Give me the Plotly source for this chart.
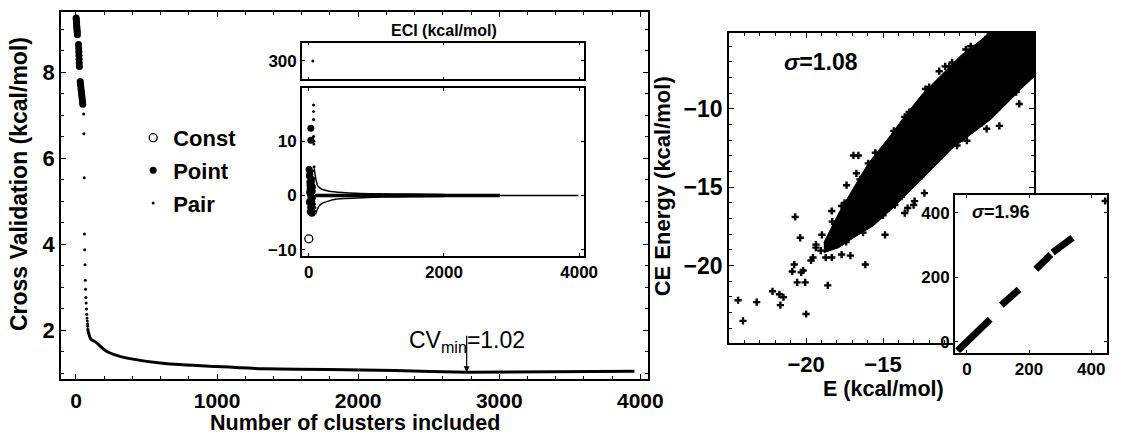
import plotly.graph_objects as go

# ---------------- Cross-validation score vs. number of clusters ----------------
cv_point_n = [1, 2, 3, 4, 5, 6, 7, 8, 9, 10,
              18, 19, 20, 21, 22, 23, 24,
              30, 32, 34, 36, 38, 40, 42, 44, 46, 48]
cv_point_v = [9.27, 9.23, 9.18, 9.14, 9.10, 9.05, 9.01, 8.97, 8.93, 8.88,
              8.65, 8.57, 8.48, 8.40, 8.31, 8.22, 8.14,
              7.79, 7.73, 7.67, 7.61, 7.55, 7.50, 7.44, 7.38, 7.32, 7.26]

cv_pair_n = [54, 56, 58, 60, 62, 64, 66, 68, 70, 72, 74, 76, 78, 80, 82, 83, 84]
cv_pair_v = [7.03, 6.57, 5.55, 4.24, 3.87, 3.52, 3.16, 2.95, 2.76, 2.63, 2.49,
             2.37, 2.28, 2.21, 2.14, 2.09, 2.02]

cv_curve_n = [84, 105, 140, 210, 300, 392, 629, 1000, 1329, 1790, 2259, 2769, 3378, 3958]
cv_curve_v = [2.00, 1.79, 1.72, 1.52, 1.40, 1.33, 1.22, 1.15, 1.10, 1.08, 1.06, 1.02, 1.03, 1.04]

cv_min_n = 2769
cv_min_v = 1.02

# ---------------- ECI inset ----------------
eci_const_n = [0]
eci_const_v = [-8.0]

eci_point_n = [30, 30, 5, 10, 15, 20, 25, 30, 35, 40, 45, 50, 8, 18, 28, 38, 48,
               12, 22, 32, 42, 52, 15, 35]
eci_point_v = [12.4, 10.2, 4.8, 3.6, 2.5, 1.2, 0.2, -0.8, -1.8, -2.6, -3.3, 0.8,
               -1.2, 1.9, -2.2, 3.0, -0.4, 0.6, -3.0, 2.4, -1.4, 1.6, 4.0, -0.3]

eci_pair_n = [70, 70, 70, 70, 75, 75, 78, 60, 65, 70, 75, 80, 85, 90, 62, 68, 74, 82, 88]
eci_pair_v = [16.7, 15.5, 14.0, 10.9, 10.0, 9.5, 5.3, 4.5, 3.2, 2.0, 0.9, -0.5,
              -1.6, -2.8, -3.4, 2.6, -1.0, 1.5, -2.2]

eci_big_n = [60]
eci_big_v = [300]

eci_upper_n = [80, 100, 131, 160, 204, 300, 496, 700, 978, 1500, 2000]
eci_upper_v = [5.0, 3.3, 1.8, 1.4, 1.1, 0.8, 0.55, 0.4, 0.3, 0.25, 0.2]
eci_lower_n = [100, 131, 160, 204, 300, 394, 540, 788, 1100, 1500, 2000]
eci_lower_v = [-3.5, -2.4, -1.8, -1.4, -1.0, -0.7, -0.55, -0.4, -0.3, -0.25, -0.2]

eci_core_n = [90, 2830]
eci_core_v = [0.0, 0.0]
eci_tail_n = [2830, 3990]
eci_tail_v = [0.0, 0.0]

# ---------------- CE energy vs. computed energy ----------------
# outline of the dense part of the cloud
band_e = [-18.85, -17.88, -16.92, -15.96, -14.68, -13.72, -12.44, -11.15, -9.87, -8.59,
          -7.95, -5.0, -5.0, -5.71, -6.67, -7.95, -9.23, -10.51, -11.79, -13.08,
          -14.36, -15.64, -16.92, -17.88, -18.85]
band_ce = [-18.54, -16.65, -15.06, -13.48, -11.90, -10.63, -9.05, -7.78, -6.52, -5.57,
           -5.0, -5.0, -7.78, -8.42, -9.37, -10.63, -11.58, -12.53, -13.80, -15.06,
           -16.33, -17.47, -18.23, -18.86, -19.18]

# individual structures outside / on the rim of the dense part
scatter_e = [-20.71, -20.38, -20.77, -20.90, -20.58, -20.06, -20.19, -20.0, -18.59, -16.15,
             -17.12, -17.69, -24.42, -24.10, -23.21, -22.18, -21.73, -21.47, -21.67, -14.87,
             -13.59, -13.01, -19.68, -19.55, -19.36, -19.04, -18.72, -18.33, -18.97, -19.36,
             -20.32, -9.62, -10.51, -10.96, -11.35, -12.24, -11.28, -13.59, -12.95, -16.60,
             -16.92, -15.96, -16.73, -17.37, -17.69, -18.33, -6.15, -6.35, -7.44, -8.27,
             -9.55, -10.19, -12.95, -12.31, -13.40, -14.23, -5.51, -5.83,
             -18.3, -17.5, -16.5, -15.5, -14.3, -13.3, -12.0, -10.7, -9.3, -8.2,
             -6.0, -7.2, -8.6, -9.9, -11.2, -12.5, -13.8, -15.0, -16.3, -17.4]
scatter_ce = [-16.90, -18.23, -19.94, -20.38, -21.08, -21.08, -20.32, -23.10, -21.27, -19.94,
              -19.37, -19.30, -22.22, -23.54, -22.34, -21.65, -21.84, -22.03, -22.53, -18.04,
              -16.65, -16.14, -19.68, -19.49, -18.86, -19.05, -19.49, -19.49, -18.04, -18.67,
              -20.44, -6.20, -7.03, -7.28, -7.59, -8.73, -8.61, -10.51, -10.19, -12.97,
              -12.97, -13.48, -14.11, -14.87, -16.20, -16.52, -9.68, -8.92, -11.08, -11.27,
              -12.03, -12.34, -15.89, -15.38, -16.33, -16.14, -7.03, -6.65,
              -17.2, -16.0, -14.5, -12.8, -11.4, -10.2, -8.6, -7.3, -6.0, -5.4,
              -8.0, -9.6, -10.9, -11.9, -13.0, -14.3, -15.6, -16.8, -17.9, -18.5]

# full-range comparison (inset): runs of structures along the diagonal
full_e = [-30, 75, None, 111, 168, None, 222, 270, None, 276, 340]
full_ce = [-28, 70, None, 114, 163, None, 225, 271, None, 277, 323]
full_out_e = [445]
full_out_ce = [437]

FONT = "Liberation Sans"
BLACK = "black"

fig = go.Figure()

# legend entries (drawn on the ECI inset)
fig.add_trace(go.Scatter(x=eci_const_n, y=eci_const_v, mode="markers", name="<b>Const</b>",
                         legendgroup="const", legendrank=1,
                         marker=dict(symbol="circle-open", size=8, color=BLACK, line=dict(width=1.3)),
                         xaxis="x3", yaxis="y3"))
fig.add_trace(go.Scatter(x=eci_point_n, y=eci_point_v, mode="markers", name="<b>Point</b>",
                         legendgroup="point", legendrank=2,
                         marker=dict(symbol="circle", size=7, color=BLACK),
                         xaxis="x3", yaxis="y3"))
fig.add_trace(go.Scatter(x=eci_pair_n, y=eci_pair_v, mode="markers", name="<b>Pair</b>",
                         legendgroup="pair", legendrank=3,
                         marker=dict(symbol="circle", size=3, color=BLACK),
                         xaxis="x3", yaxis="y3"))

# CV curve
fig.add_trace(go.Scatter(x=cv_point_n, y=cv_point_v, mode="markers", showlegend=False,
                         legendgroup="point", marker=dict(size=7, color=BLACK),
                         xaxis="x", yaxis="y"))
fig.add_trace(go.Scatter(x=cv_pair_n, y=cv_pair_v, mode="markers", showlegend=False,
                         legendgroup="pair", marker=dict(size=3, color=BLACK),
                         xaxis="x", yaxis="y"))
fig.add_trace(go.Scatter(x=cv_curve_n, y=cv_curve_v, mode="lines", showlegend=False,
                         legendgroup="pair", line=dict(color=BLACK, width=3, shape="spline", smoothing=0.6),
                         xaxis="x", yaxis="y"))

# ECI inset: upper strip
fig.add_trace(go.Scatter(x=eci_big_n, y=eci_big_v, mode="markers", showlegend=False,
                         legendgroup="pair", marker=dict(size=3, color=BLACK),
                         xaxis="x2", yaxis="y2"))
# ECI inset: lower panel lines
fig.add_trace(go.Scatter(x=eci_upper_n, y=eci_upper_v, mode="lines", showlegend=False,
                         line=dict(color=BLACK, width=1.5, shape="spline", smoothing=0.8),
                         xaxis="x3", yaxis="y3"))
fig.add_trace(go.Scatter(x=eci_lower_n, y=eci_lower_v, mode="lines", showlegend=False,
                         line=dict(color=BLACK, width=1.5, shape="spline", smoothing=0.8),
                         xaxis="x3", yaxis="y3"))
fig.add_trace(go.Scatter(x=eci_core_n, y=eci_core_v, mode="lines", showlegend=False,
                         line=dict(color=BLACK, width=3.5), xaxis="x3", yaxis="y3"))
fig.add_trace(go.Scatter(x=eci_tail_n, y=eci_tail_v, mode="lines", showlegend=False,
                         line=dict(color=BLACK, width=1.5), xaxis="x3", yaxis="y3"))

# CE vs E scatter
fig.add_trace(go.Scatter(x=band_e, y=band_ce, mode="lines", fill="toself", showlegend=False,
                         fillcolor="black", line=dict(color=BLACK, width=1),
                         xaxis="x4", yaxis="y4"))
fig.add_trace(go.Scatter(x=scatter_e, y=scatter_ce, mode="markers", showlegend=False,
                         marker=dict(symbol="cross", size=6, color=BLACK),
                         xaxis="x4", yaxis="y4"))

# full-range inset
fig.add_trace(go.Scatter(x=full_e, y=full_ce, mode="lines", showlegend=False,
                         line=dict(color=BLACK, width=7), connectgaps=False,
                         xaxis="x5", yaxis="y5"))
fig.add_trace(go.Scatter(x=full_out_e, y=full_out_ce, mode="markers", showlegend=False,
                         marker=dict(symbol="cross", size=6, color=BLACK),
                         xaxis="x5", yaxis="y5"))

W, H = 1123, 436


def dx(a, b):
    return [a / W, b / W]


def dy(top, bottom):
    return [1 - bottom / H, 1 - top / H]


def ax(**kw):
    base = dict(showgrid=False, zeroline=False, showline=True, linecolor=BLACK,
                linewidth=2, mirror="allticks", ticks="inside", ticklen=5,
                tickcolor=BLACK, tickwidth=1, color=BLACK)
    base.update(kw)
    return base


def bold(size):
    return dict(size=size, family=FONT, color=BLACK, weight="bold")


layout = dict(
    width=W, height=H,
    margin=dict(l=0, r=0, t=0, b=0),
    paper_bgcolor="white", plot_bgcolor="white",
    font=dict(family=FONT, color=BLACK, size=20),
    showlegend=True,
    legend=dict(x=135 / W, y=1 - 118 / H, xanchor="left", yanchor="top",
                bgcolor="rgba(0,0,0,0)", font=bold(22),
                tracegroupgap=1, itemsizing="trace"),
    xaxis=ax(domain=dx(62, 657), range=[-105, 4056], tickvals=[0, 1000, 2000, 3000, 4000],
             tickfont=bold(21), anchor="y", ticklabelstandoff=1,
             minor=dict(ticks="inside", ticklen=3, dtick=200, tickcolor=BLACK)),
    yaxis=ax(domain=dy(12, 383), range=[0.85, 9.41], tickvals=[2, 4, 6, 8],
             tickfont=bold(22), anchor="x",
             minor=dict(ticks="inside", ticklen=3, dtick=0.5, tickcolor=BLACK)),
    xaxis2=ax(domain=dx(306, 592), range=[-102, 4073], showticklabels=False, anchor="y2",
              linewidth=1.5, ticklen=3, tickvals=[0, 2000, 4000]),
    yaxis2=ax(domain=dy(43, 80), range=[285, 315], tickvals=[300], anchor="x2",
              linewidth=1.5, ticklen=3, tickfont=bold(17)),
    xaxis3=ax(domain=dx(306, 592), range=[-102, 4073], tickvals=[0, 2000, 4000],
              anchor="y3", linewidth=1.5, ticklen=3, tickfont=bold(17)),
    yaxis3=ax(domain=dy(89, 258), range=[-11.1, 19.8], tickvals=[-10, 0, 10],
              anchor="x3", linewidth=1.5, ticklen=3, tickfont=bold(17)),
    xaxis4=ax(domain=dx(739, 1048), range=[-25.0, -5.19], tickvals=[-20, -15],
              anchor="y4", tickfont=bold(22), ticklabelstandoff=1,
              minor=dict(ticks="inside", ticklen=3, dtick=1, tickcolor=BLACK)),
    yaxis4=ax(domain=dy(33, 346), range=[-24.94, -5.13], tickvals=[-20, -15, -10],
              anchor="x4", tickfont=bold(23),
              minor=dict(ticks="inside", ticklen=3, dtick=1, tickcolor=BLACK)),
    xaxis5=ax(domain=dx(968, 1122), range=[-38, 451], tickvals=[0, 200, 400],
              anchor="y5", ticklen=3, tickfont=bold(17)),
    yaxis5=ax(domain=dy(197, 356), range=[-34, 455], tickvals=[0, 200, 400],
              anchor="x5", ticklen=3, tickfont=bold(17)),
)
fig.update_layout(**layout)


def label(text, px, py, size, angle=0, weight="bold"):
    return dict(text=text, x=px / W, y=1 - py / H, xref="paper", yref="paper",
                xanchor="center", yanchor="middle", showarrow=False, textangle=angle,
                font=dict(size=size, family=FONT, color=BLACK, weight=weight))


annotations = [
    label("Number of clusters included", 360, 427, 21.5),
    label("Cross Validation (kcal/mol)", 20, 186, 23, angle=-90),
    label("ECI (kcal/mol)", 450, 31, 16),
    label("E (kcal/mol)", 895, 393, 21.5),
    label("CE Energy (kcal/mol)", 671, 188, 22, angle=-90),
    label("<i>σ</i>=1.08", 832, 63, 23),
    label("<i>σ</i>=1.96", 1015, 214, 18),
    # arrow to the minimum of the CV curve
    dict(text="", x=cv_min_n, y=cv_min_v, xref="x", yref="y", ax=0, ay=-38,
         showarrow=True, arrowhead=2, arrowsize=1, arrowwidth=1.2, arrowcolor=BLACK),
    dict(text="CV<sub>min</sub>=1.02", x=cv_min_n, y=cv_min_v, xref="x", yref="y",
         xanchor="center", yanchor="middle", yshift=31, showarrow=False,
         font=dict(size=23, family=FONT, color=BLACK)),
]
fig.update_layout(annotations=annotations)

fig.write_html("out.html")
